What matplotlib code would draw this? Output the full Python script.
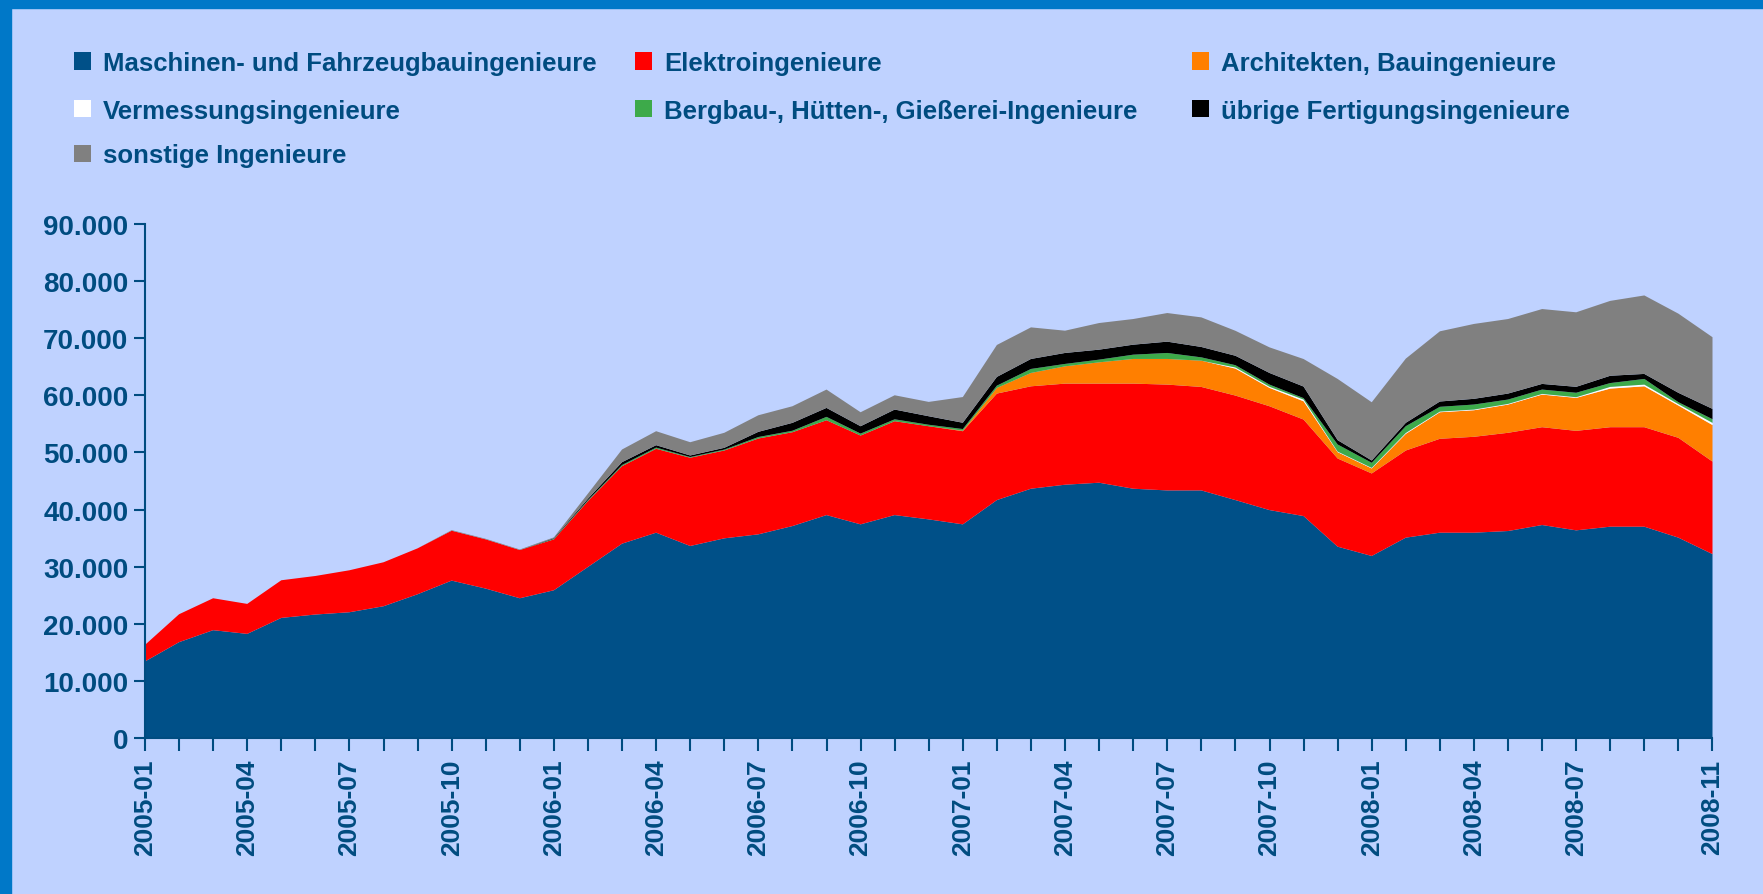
import matplotlib
matplotlib.use("Agg")
import matplotlib.pyplot as plt
from matplotlib.patches import Rectangle
import pandas as pd
import numpy as np

months = list(pd.date_range("2005-01-01", "2008-11-01", freq="MS").strftime("%Y-%m"))
labeled_months = ["2005-01", "2005-04", "2005-07", "2005-10", "2006-01", "2006-04",
                  "2006-07", "2006-10", "2007-01", "2007-04", "2007-07", "2007-10",
                  "2008-01", "2008-04", "2008-07", "2008-11"]

series_names = ["Maschinen- und Fahrzeugbauingenieure", "Elektroingenieure",
                "Architekten, Bauingenieure", "Vermessungsingenieure",
                "Bergbau-, Hütten-, Gießerei-Ingenieure", "übrige Fertigungsingenieure",
                "sonstige Ingenieure"]

maschinen = [13400, 16780, 18880, 18230, 21030, 21620, 22020, 23070, 25170, 27560, 26160, 24470,
             25870, 29950, 34030, 35950, 33620, 34960, 35660, 37110, 39030, 37410, 39030, 38280,
             37410, 41660, 43650, 44350, 44700, 43650, 43350, 43350, 41660, 39910, 38860, 33500,
             31870, 35080, 35950, 35950, 36240, 37290, 36360, 37000, 37000, 35080, 32200]
elektro = [2900, 4890, 5590, 5250, 6590, 6750, 7350, 7700, 8040, 8740, 8620, 8440,
           8910, 11550, 13570, 14690, 15450, 15380, 16780, 16430, 16610, 15550, 16440, 16310,
           16310, 18650, 17930, 17700, 17350, 18400, 18530, 18120, 18300, 18180, 16900, 15440,
           14450, 15260, 16440, 16790, 17200, 17130, 17420, 17420, 17420, 17480, 16200]
architekten = [0, 0, 0, 0, 0, 0, 0, 0, 0, 0, 0, 0,
               0, 0, 0, 0, 0, 0, 0, 0, 0, 0, 0, 0,
               100, 990, 2340, 3030, 3730, 4320, 4490, 4600, 4720, 3210, 3200, 1110,
               880, 2920, 4650, 4650, 4940, 5710, 5770, 6760, 7160, 5650, 6400]
vermessung = [0, 0, 0, 0, 0, 0, 0, 0, 0, 0, 0, 0,
              0, 0, 0, 0, 0, 0, 0, 0, 0, 0, 0, 0,
              0, 0, 0, 0, 0, 0, 0, 0, 200, 200, 300, 100,
              100, 150, 120, 120, 120, 120, 120, 300, 300, 250, 380]
bergbau = [0, 0, 0, 0, 0, 0, 0, 0, 0, 0, 0, 0,
           100, 150, 200, 210, 130, 160, 260, 260, 590, 340, 330, 260,
           280, 400, 700, 420, 470, 750, 1050, 580, 400, 380, 250, 1240,
           890, 1190, 830, 880, 760, 760, 780, 670, 990, 340, 640]
uebrige = [0, 0, 0, 0, 0, 0, 0, 0, 0, 0, 0, 0,
           100, 250, 500, 420, 270, 310, 910, 1380, 1570, 1290, 1710, 1490,
           1100, 1530, 1750, 1920, 1750, 1750, 1980, 1820, 1650, 2040, 2030, 760,
           400, 590, 930, 1000, 1050, 990, 1040, 1280, 880, 1640, 1810]
sonstige = [0, 0, 0, 0, 0, 0, 0, 0, 0, 100, 100, 100,
            150, 900, 2220, 2450, 2320, 2630, 2900, 2910, 3210, 2450, 2500, 2510,
            4500, 5590, 5530, 3900, 4660, 4490, 5010, 5180, 4370, 4480, 4820, 10720,
            10200, 11240, 12290, 13110, 13050, 13110, 13050, 13110, 13740, 13860, 12550]

colors = ["#005088", "#FF0000", "#FF7F00", "#FFFFFF", "#3DAA4A", "#000000", "#808080"]
bg = "#BFD2FF"
txt = "#004C80"
font = ["Liberation Sans", "DejaVu Sans"]

W, H = 1763, 895
fig = plt.figure(figsize=(W / 100, H / 100), dpi=100)
fig.patch.set_facecolor(bg)

# frame strips
fig.patches.append(Rectangle((0, 0), 11 / W, 1, transform=fig.transFigure, color="#0078C8", zorder=0))
fig.patches.append(Rectangle((0, 1 - 9 / H), 1, 9 / H, transform=fig.transFigure, color="#0078C8", zorder=0))

ax = fig.add_axes([145 / W, 156 / H, (1712.5 - 145) / W, (739 - 225) / H])
ax.set_facecolor(bg)
x = np.arange(len(months))
data = [maschinen, elektro, architekten, vermessung, bergbau, uebrige, sonstige]
ax.stackplot(x, *data, colors=colors, linewidth=0, antialiased=True)

ax.set_xlim(0, len(months) - 1)
ax.set_ylim(0, 90000)
ax.set_yticks(np.arange(0, 90001, 10000))
ax.set_yticklabels([f"{v:,}".replace(",", ".") for v in range(0, 90001, 10000)],
                   fontfamily=font, fontweight="bold", fontsize=20, color=txt)
ax.set_xticks(x, minor=True)
ax.set_xticks([months.index(m) for m in labeled_months])
ax.set_xticklabels(labeled_months, rotation=90, fontfamily=font, fontweight="bold",
                   fontsize=19, color=txt)
ax.tick_params(axis="y", length=8, width=1.5, color=txt, pad=4)
ax.tick_params(axis="x", which="both", length=9, width=1.5, color=txt, pad=6)
for s in ["top", "right"]:
    ax.spines[s].set_visible(False)
for s in ["left", "bottom"]:
    ax.spines[s].set_color(txt)
    ax.spines[s].set_linewidth(1.5)

# legend (manual, row-wise like the original)
col_x = [74, 635, 1192]
row_y = [62, 109, 154]
sq = 17
for k, (name, c) in enumerate(zip(series_names, colors)):
    r, cidx = divmod(k, 3)
    mx, my = col_x[cidx], row_y[r]
    fig.patches.append(Rectangle((mx / W, 1 - (my + sq / 2) / H), sq / W, sq / H,
                                 transform=fig.transFigure, facecolor=c, edgecolor="none"))
    fig.text((mx + 29) / W, 1 - my / H, name, ha="left", va="center_baseline",
             fontfamily=font, fontweight="bold", fontsize=18.5, color=txt)

fig.savefig("out.png", dpi=100, facecolor=bg)
